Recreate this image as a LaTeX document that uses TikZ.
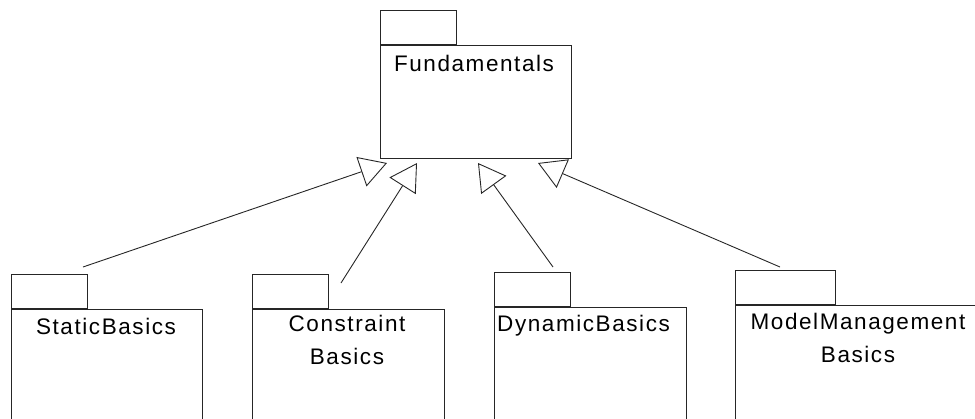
\documentclass[tikz,border=0pt]{standalone}
\usepackage{fontspec}
\newfontfamily\pkgfont{Liberation Sans}[LetterSpace=7]
\usetikzlibrary{arrows.meta}

\begin{document}
\begin{tikzpicture}[x=1pt, y=-1pt,
    outline/.style={draw=black!85, line width=1pt},
    pkgtab/.style={outline, inner sep=0pt, minimum width=#1, minimum height=34pt, anchor=south west},
    pkgtab/.default=76pt,
    pkgbody/.style={outline, inner sep=0pt, anchor=north west},
    pkgname/.style={font=\pkgfont\fontsize{22.5}{32.6}\selectfont, inner sep=0pt, align=center},
    gen/.style={draw=black!85, line width=0.9pt,
      -{Triangle[open, length=27pt, width=31pt, line width=0.9pt]}}]

  \useasboundingbox (0,0) rectangle (975,418);
  \clip (0,0) rectangle (975,418);

  % Fundamentals package
  \node[pkgbody, minimum width=191pt, minimum height=113pt] (fund) at (380,45) {};
  \node[pkgtab] (fundtab) at (fund.north west) {};
  \node[pkgname, anchor=base] (fundname) at (474,71.7) {Fundamentals};

  % StaticBasics package
  \node[pkgbody, minimum width=191pt, minimum height=130pt] (stat) at (11,309) {};
  \node[pkgtab] (stattab) at (stat.north west) {};
  \node[pkgname, anchor=base] (statname) at (106,334) {StaticBasics};

  % ConstraintBasics package (base anchor sits on the last line)
  \node[pkgbody, minimum width=192pt, minimum height=130pt] (cons) at (252,309) {};
  \node[pkgtab] (constab) at (cons.north west) {};
  \node[pkgname, anchor=base] (consname) at (347,364.3) {Constraint\\Basics};

  % DynamicBasics package
  \node[pkgbody, minimum width=192pt, minimum height=130pt] (dyn) at (494,307) {};
  \node[pkgtab] (dyntab) at (dyn.north west) {};
  \node[pkgname, anchor=base west] (dynname) at (497,331.7) {DynamicBasics};

  % ModelManagementBasics package
  \node[pkgbody, minimum width=260pt, minimum height=130pt] (mm) at (735,305) {};
  \node[pkgtab=100pt] (mmtab) at (mm.north west) {};
  \node[pkgname, anchor=base] (mmname) at (858,362.3) {ModelManagement\\Basics};

  % generalization connectors
  \coordinate (statend) at (83,267);
  \coordinate (consend) at (341,283);
  \coordinate (dynend)  at (553,267);
  \coordinate (mmend)   at (780,267);
  \coordinate (tipA) at (387,163);
  \coordinate (tipB) at (417,163);
  \coordinate (tipC) at (478,163);
  \coordinate (tipD) at (538,163);

  \draw[gen] (statend) -- (tipA);
  \draw[gen] (consend) -- (tipB);
  \draw[gen] (dynend)  -- (tipC);
  \draw[gen] (mmend)   -- (tipD);
\end{tikzpicture}
\end{document}
